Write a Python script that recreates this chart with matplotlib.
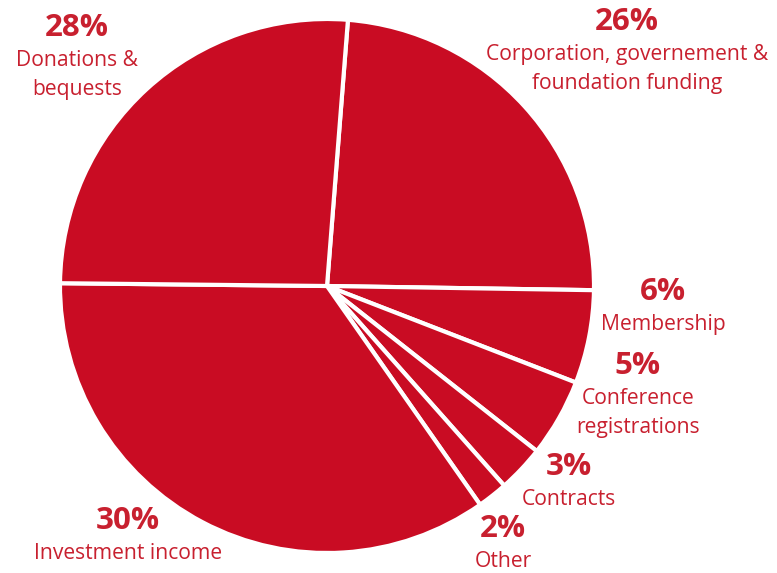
import matplotlib.pyplot as plt

# ========== Data ==========
categories = ["Corporation, governement &\nfoundation funding", "Membership",
              "Conference\nregistrations", "Contracts", "Other",
              "Investment income", "Donations &\nbequests"]
pct_labels = ["26%", "6%", "5%", "3%", "2%", "30%", "28%"]
# wedge sizes as drawn in the picture (degrees of arc)
wedge_deg = [86.4, 20.3, 17.0, 10.2, 6.6, 125.6, 93.9]

# label anchor points (pixels, top-left origin)
label_xy = [(627, 22), (663, 292), (638, 366), (569, 467),
            (503, 529), (128, 521), (77, 28)]

red = "#C90C23"
text_red = "#C8202F"
plt.rcParams['font.family'] = ['Open Sans', 'DejaVu Sans']

# ========== Figure ==========
W, H = 777, 573
fig = plt.figure(figsize=(W / 100, H / 100), dpi=100)
ax = fig.add_axes([0, 0, 1, 1])

ax.pie(wedge_deg, colors=[red] * len(wedge_deg), startangle=85.5,
       counterclock=False, center=(327, H - 286), radius=267,
       wedgeprops=dict(edgecolor='white', linewidth=3), frame=True)
ax.set_xlim(0, W)
ax.set_ylim(0, H)
ax.set_aspect('equal')
ax.axis('off')

for cat, pct, (x, y) in zip(categories, pct_labels, label_xy):
    ax.text(x, H - y, pct, ha='center', va='center', color=text_red,
            fontsize=22.5, fontweight='bold')
    ax.text(x, H - y - 22, cat, ha='center', va='top', color=text_red,
            fontsize=15.2, linespacing=1.52)

fig.savefig("out.png", dpi=100)
